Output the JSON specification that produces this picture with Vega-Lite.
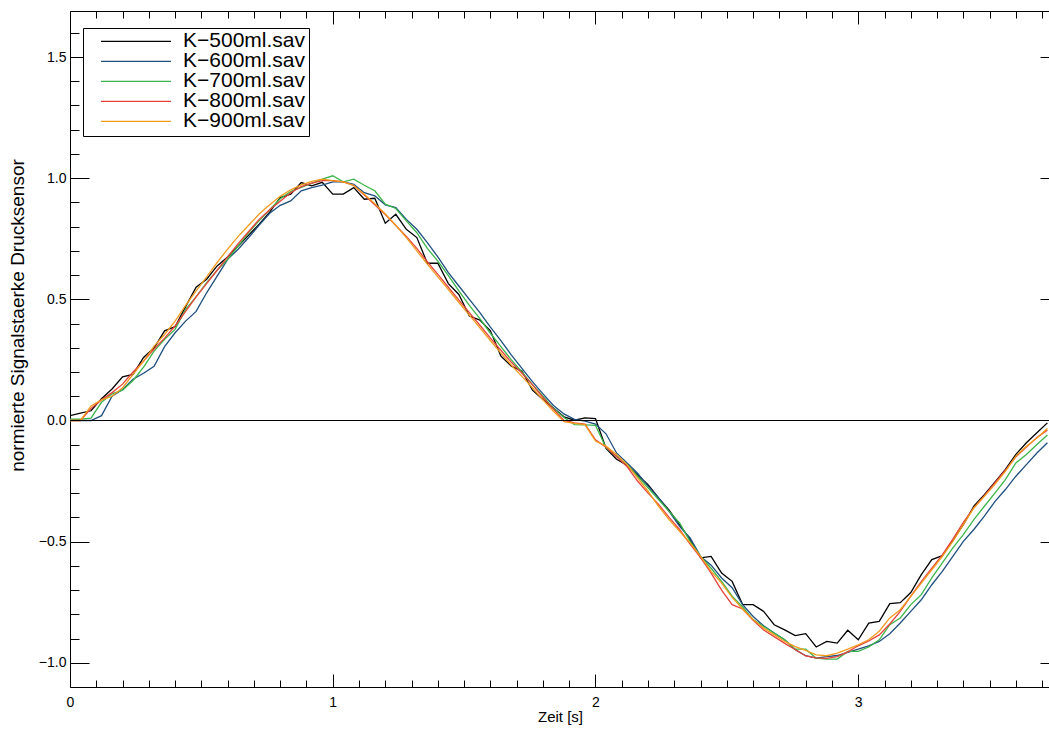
{
 "$schema": "https://vega.github.io/schema/vega-lite/v6.json",
 "width": 979, "height": 676,
 "autosize": {"type": "none"},
 "padding": {"left": 70, "top": 11, "right": 0, "bottom": 44},
 "background": "white",
 "config": {
  "view": {"stroke": null},
  "font": "Liberation Sans",
  "axis": {"grid": false, "domainColor": "black", "domainWidth": 1, "tickColor": "black", "tickWidth": 1, "labelColor": "black", "titleColor": "black", "labelFont": "Liberation Sans", "titleFont": "Liberation Sans", "titleFontWeight": "normal", "labelOverlap": false, "labelFlush": false, "labelBound": false},
  "legend": {"orient": "none", "legendX": 13, "legendY": 17, "title": null, "strokeColor": "black", "fillColor": "white", "padding": 4, "symbolType": "stroke", "symbolSize": 4900, "symbolStrokeWidth": 1.3, "symbolOffset": 13, "labelFontSize": 21, "labelFont": "Liberation Sans", "labelOffset": 11, "clipHeight": 18.75, "rowPadding": -5, "labelColor": "black", "labelLimit": 400}
 },
 "datasets": {"sig": [
  {"t":0.00,"K500":0.02,"K600":0.0,"K700":0.005,"K800":0.0,"K900":0.0},
  {"t":0.04,"K500":0.03,"K600":0.0,"K700":0.005,"K800":0.0,"K900":0.0},
  {"t":0.08,"K500":0.04,"K600":0.0,"K700":0.01,"K800":0.05,"K900":0.06},
  {"t":0.12,"K500":0.09,"K600":0.02,"K700":0.075,"K800":0.085,"K900":0.085},
  {"t":0.16,"K500":0.13,"K600":0.10,"K700":0.11,"K800":0.115,"K900":0.10},
  {"t":0.20,"K500":0.18,"K600":0.128,"K700":0.125,"K800":0.15,"K900":0.135},
  {"t":0.24,"K500":0.19,"K600":0.17,"K700":0.165,"K800":0.2,"K900":0.19},
  {"t":0.28,"K500":0.26,"K600":0.195,"K700":0.22,"K800":0.245,"K900":0.245},
  {"t":0.32,"K500":0.30,"K600":0.224,"K700":0.286,"K800":0.295,"K900":0.307},
  {"t":0.36,"K500":0.37,"K600":0.305,"K700":0.335,"K800":0.34,"K900":0.355},
  {"t":0.40,"K500":0.387,"K600":0.362,"K700":0.376,"K800":0.39,"K900":0.41},
  {"t":0.44,"K500":0.47,"K600":0.41,"K700":0.459,"K800":0.45,"K900":0.475},
  {"t":0.48,"K500":0.55,"K600":0.45,"K700":0.51,"K800":0.51,"K900":0.535},
  {"t":0.52,"K500":0.583,"K600":0.527,"K700":0.569,"K800":0.565,"K900":0.593},
  {"t":0.56,"K500":0.638,"K600":0.596,"K700":0.62,"K800":0.62,"K900":0.652},
  {"t":0.60,"K500":0.675,"K600":0.665,"K700":0.665,"K800":0.675,"K900":0.707},
  {"t":0.64,"K500":0.72,"K600":0.707,"K700":0.72,"K800":0.73,"K900":0.76},
  {"t":0.68,"K500":0.765,"K600":0.755,"K700":0.775,"K800":0.78,"K900":0.806},
  {"t":0.72,"K500":0.81,"K600":0.806,"K700":0.825,"K800":0.83,"K900":0.852},
  {"t":0.76,"K500":0.86,"K600":0.855,"K700":0.87,"K800":0.87,"K900":0.89},
  {"t":0.80,"K500":0.92,"K600":0.888,"K700":0.915,"K800":0.905,"K900":0.925},
  {"t":0.84,"K500":0.934,"K600":0.906,"K700":0.945,"K800":0.94,"K900":0.952},
  {"t":0.88,"K500":0.982,"K600":0.948,"K700":0.962,"K800":0.965,"K900":0.972},
  {"t":0.92,"K500":0.968,"K600":0.961,"K700":0.979,"K800":0.98,"K900":0.987},
  {"t":0.96,"K500":0.983,"K600":0.971,"K700":0.996,"K800":0.99,"K900":0.996},
  {"t":1.00,"K500":0.934,"K600":0.985,"K700":1.01,"K800":0.99,"K900":0.99},
  {"t":1.04,"K500":0.934,"K600":0.985,"K700":0.985,"K800":0.985,"K900":0.985},
  {"t":1.08,"K500":0.961,"K600":0.975,"K700":0.996,"K800":0.97,"K900":0.97},
  {"t":1.12,"K500":0.913,"K600":0.94,"K700":0.971,"K800":0.93,"K900":0.934},
  {"t":1.16,"K500":0.917,"K600":0.927,"K700":0.948,"K800":0.89,"K900":0.895},
  {"t":1.20,"K500":0.814,"K600":0.89,"K700":0.893,"K800":0.85,"K900":0.852},
  {"t":1.24,"K500":0.851,"K600":0.879,"K700":0.875,"K800":0.805,"K900":0.805},
  {"t":1.28,"K500":0.789,"K600":0.83,"K700":0.824,"K800":0.76,"K900":0.755},
  {"t":1.32,"K500":0.755,"K600":0.789,"K700":0.775,"K800":0.71,"K900":0.70},
  {"t":1.36,"K500":0.649,"K600":0.734,"K700":0.71,"K800":0.655,"K900":0.645},
  {"t":1.40,"K500":0.649,"K600":0.675,"K700":0.658,"K800":0.603,"K900":0.593},
  {"t":1.44,"K500":0.565,"K600":0.61,"K700":0.598,"K800":0.55,"K900":0.54},
  {"t":1.48,"K500":0.52,"K600":0.555,"K700":0.535,"K800":0.497,"K900":0.487},
  {"t":1.52,"K500":0.431,"K600":0.50,"K700":0.475,"K800":0.445,"K900":0.435},
  {"t":1.56,"K500":0.414,"K600":0.445,"K700":0.42,"K800":0.393,"K900":0.382},
  {"t":1.60,"K500":0.37,"K600":0.385,"K700":0.36,"K800":0.34,"K900":0.33},
  {"t":1.64,"K500":0.266,"K600":0.33,"K700":0.305,"K800":0.29,"K900":0.278},
  {"t":1.68,"K500":0.224,"K600":0.27,"K700":0.25,"K800":0.24,"K900":0.228},
  {"t":1.72,"K500":0.204,"K600":0.215,"K700":0.2,"K800":0.195,"K900":0.182},
  {"t":1.76,"K500":0.125,"K600":0.16,"K700":0.148,"K800":0.148,"K900":0.135},
  {"t":1.80,"K500":0.087,"K600":0.11,"K700":0.1,"K800":0.095,"K900":0.085},
  {"t":1.84,"K500":0.052,"K600":0.062,"K700":0.05,"K800":0.047,"K900":0.038},
  {"t":1.88,"K500":0.015,"K600":0.027,"K700":0.012,"K800":0.0,"K900":-0.005},
  {"t":1.92,"K500":0.001,"K600":0.005,"K700":-0.017,"K800":-0.01,"K900":-0.012},
  {"t":1.96,"K500":0.011,"K600":-0.003,"K700":-0.018,"K800":-0.015,"K900":-0.017},
  {"t":2.00,"K500":0.008,"K600":-0.015,"K700":-0.02,"K800":-0.08,"K900":-0.085},
  {"t":2.04,"K500":-0.115,"K600":-0.055,"K700":-0.113,"K800":-0.11,"K900":-0.106},
  {"t":2.08,"K500":-0.16,"K600":-0.134,"K700":-0.147,"K800":-0.15,"K900":-0.14},
  {"t":2.12,"K500":-0.185,"K600":-0.175,"K700":-0.182,"K800":-0.19,"K900":-0.182},
  {"t":2.16,"K500":-0.225,"K600":-0.218,"K700":-0.23,"K800":-0.25,"K900":-0.237},
  {"t":2.20,"K500":-0.265,"K600":-0.271,"K700":-0.278,"K800":-0.30,"K900":-0.292},
  {"t":2.24,"K500":-0.32,"K600":-0.32,"K700":-0.326,"K800":-0.346,"K900":-0.354},
  {"t":2.28,"K500":-0.37,"K600":-0.375,"K700":-0.375,"K800":-0.40,"K900":-0.409},
  {"t":2.32,"K500":-0.43,"K600":-0.437,"K700":-0.423,"K800":-0.45,"K900":-0.457},
  {"t":2.36,"K500":-0.492,"K600":-0.485,"K700":-0.499,"K800":-0.51,"K900":-0.505},
  {"t":2.40,"K500":-0.567,"K600":-0.561,"K700":-0.561,"K800":-0.566,"K900":-0.561},
  {"t":2.44,"K500":-0.561,"K600":-0.597,"K700":-0.61,"K800":-0.63,"K900":-0.623},
  {"t":2.48,"K500":-0.63,"K600":-0.65,"K700":-0.664,"K800":-0.70,"K900":-0.671},
  {"t":2.52,"K500":-0.664,"K600":-0.69,"K700":-0.725,"K800":-0.76,"K900":-0.73},
  {"t":2.56,"K500":-0.76,"K600":-0.76,"K700":-0.77,"K800":-0.778,"K900":-0.778},
  {"t":2.60,"K500":-0.76,"K600":-0.809,"K700":-0.822,"K800":-0.825,"K900":-0.822},
  {"t":2.64,"K500":-0.788,"K600":-0.847,"K700":-0.85,"K800":-0.865,"K900":-0.857},
  {"t":2.68,"K500":-0.843,"K600":-0.877,"K700":-0.877,"K800":-0.892,"K900":-0.884},
  {"t":2.72,"K500":-0.864,"K600":-0.905,"K700":-0.905,"K800":-0.92,"K900":-0.912},
  {"t":2.76,"K500":-0.888,"K600":-0.946,"K700":-0.944,"K800":-0.945,"K900":-0.933},
  {"t":2.80,"K500":-0.88,"K600":-0.971,"K700":-0.944,"K800":-0.972,"K900":-0.949},
  {"t":2.84,"K500":-0.935,"K600":-0.981,"K700":-0.981,"K800":-0.98,"K900":-0.967},
  {"t":2.88,"K500":-0.912,"K600":-0.975,"K700":-0.985,"K800":-0.982,"K900":-0.971},
  {"t":2.92,"K500":-0.919,"K600":-0.97,"K700":-0.985,"K800":-0.975,"K900":-0.96},
  {"t":2.96,"K500":-0.866,"K600":-0.957,"K700":-0.953,"K800":-0.955,"K900":-0.944},
  {"t":3.00,"K500":-0.905,"K600":-0.944,"K700":-0.953,"K800":-0.93,"K900":-0.926},
  {"t":3.04,"K500":-0.836,"K600":-0.93,"K700":-0.935,"K800":-0.91,"K900":-0.905},
  {"t":3.08,"K500":-0.829,"K600":-0.912,"K700":-0.905,"K800":-0.885,"K900":-0.87},
  {"t":3.12,"K500":-0.756,"K600":-0.88,"K700":-0.843,"K800":-0.84,"K900":-0.815},
  {"t":3.16,"K500":-0.752,"K600":-0.836,"K700":-0.815,"K800":-0.788,"K900":-0.781},
  {"t":3.20,"K500":-0.71,"K600":-0.788,"K700":-0.76,"K800":-0.725,"K900":-0.726},
  {"t":3.24,"K500":-0.636,"K600":-0.74,"K700":-0.719,"K800":-0.665,"K900":-0.671},
  {"t":3.28,"K500":-0.574,"K600":-0.678,"K700":-0.65,"K800":-0.61,"K900":-0.616},
  {"t":3.32,"K500":-0.558,"K600":-0.623,"K700":-0.588,"K800":-0.555,"K900":-0.561},
  {"t":3.36,"K500":-0.495,"K600":-0.561,"K700":-0.526,"K800":-0.49,"K900":-0.499},
  {"t":3.40,"K500":-0.43,"K600":-0.499,"K700":-0.471,"K800":-0.42,"K900":-0.43},
  {"t":3.44,"K500":-0.354,"K600":-0.45,"K700":-0.409,"K800":-0.36,"K900":-0.361},
  {"t":3.48,"K500":-0.306,"K600":-0.395,"K700":-0.354,"K800":-0.31,"K900":-0.313},
  {"t":3.52,"K500":-0.255,"K600":-0.335,"K700":-0.3,"K800":-0.258,"K900":-0.264},
  {"t":3.56,"K500":-0.202,"K600":-0.285,"K700":-0.244,"K800":-0.205,"K900":-0.21},
  {"t":3.60,"K500":-0.14,"K600":-0.23,"K700":-0.175,"K800":-0.15,"K900":-0.147},
  {"t":3.64,"K500":-0.092,"K600":-0.182,"K700":-0.14,"K800":-0.11,"K900":-0.106},
  {"t":3.68,"K500":-0.051,"K600":-0.134,"K700":-0.099,"K800":-0.07,"K900":-0.072},
  {"t":3.72,"K500":-0.01,"K600":-0.092,"K700":-0.06,"K800":-0.04,"K900":-0.033}
 ]},
 "layer": [
  {
   "data": {"name": "sig"},
   "transform": [{"fold": ["K500","K600","K700","K800","K900"], "as": ["series","v"]}],
   "mark": {"type": "line", "clip": true, "strokeWidth": 1.3},
   "encoding": {
    "x": {"field": "t", "type": "quantitative",
     "scale": {"domain": [0, 3.726], "nice": false, "zero": false},
     "axis": {"orient": "bottom", "title": "Zeit [s]", "titleFontSize": 15, "titleX": 490, "titleY": 34, "titleBaseline": "alphabetic", "titleAlign": "center",
      "values": [0,0.1,0.2,0.3,0.4,0.5,0.6,0.7,0.8,0.9,1,1.1,1.2,1.3,1.4,1.5,1.6,1.7,1.8,1.9,2,2.1,2.2,2.3,2.4,2.5,2.6,2.7,2.8,2.9,3,3.1,3.2,3.3,3.4,3.5,3.6,3.7],
      "format": ".0f",
      "labelExpr": "abs(datum.value - round(datum.value)) < 0.001 ? datum.label : ''",
      "tickSize": {"condition": {"test": "abs(datum.value - round(datum.value)) < 0.001", "value": -13}, "value": -7},
      "labelPadding": 21, "labelFontSize": 14}},
    "y": {"field": "v", "type": "quantitative",
     "scale": {"domain": [-1.1, 1.69], "nice": false, "zero": false},
     "axis": {"orient": "left", "title": "normierte Signalstaerke Drucksensor", "titleFontSize": 19, "titleX": -53, "titleY": 304, "titleBaseline": "middle", "titleAlign": "center", "titleAngle": -90,
      "values": [-1,-0.9,-0.8,-0.7,-0.6,-0.5,-0.4,-0.3,-0.2,-0.1,0,0.1,0.2,0.3,0.4,0.5,0.6,0.7,0.8,0.9,1,1.1,1.2,1.3,1.4,1.5,1.6],
      "format": ".1f",
      "labelExpr": "abs(datum.value*2 - round(datum.value*2)) < 0.001 ? datum.label : ''",
      "tickSize": {"condition": {"test": "abs(datum.value*2 - round(datum.value*2)) < 0.001", "value": -19}, "value": -9},
      "labelPadding": 23, "labelFontSize": 14}},
    "color": {"field": "series", "type": "nominal",
     "scale": {"domain": ["K500","K600","K700","K800","K900"], "range": ["#000000","#1f4f7f","#3bb54a","#e8433b","#f29b1d"]},
     "legend": {"labelExpr": "'K\u2212' + slice(datum.label, 1) + 'ml.sav'"}}
   }
  },
  {
   "data": {"values": [{}]},
   "mark": {"type": "rule", "color": "black", "strokeWidth": 1.2},
   "encoding": {
    "x": {"datum": 0, "type": "quantitative",
     "axis": {"orient": "top", "title": null, "labels": false,
      "values": [0,0.1,0.2,0.3,0.4,0.5,0.6,0.7,0.8,0.9,1,1.1,1.2,1.3,1.4,1.5,1.6,1.7,1.8,1.9,2,2.1,2.2,2.3,2.4,2.5,2.6,2.7,2.8,2.9,3,3.1,3.2,3.3,3.4,3.5,3.6,3.7],
      "tickSize": {"condition": {"test": "abs(datum.value - round(datum.value)) < 0.001", "value": -13}, "value": -7}}},
    "x2": {"datum": 3.726},
    "y": {"datum": 0, "type": "quantitative",
     "axis": {"orient": "right", "title": null, "labels": false, "offset": 10, "domain": false,
      "values": [-1,-0.9,-0.8,-0.7,-0.6,-0.5,-0.4,-0.3,-0.2,-0.1,0,0.1,0.2,0.3,0.4,0.5,0.6,0.7,0.8,0.9,1,1.1,1.2,1.3,1.4,1.5,1.6],
      "tickSize": {"condition": {"test": "abs(datum.value*2 - round(datum.value*2)) < 0.001", "value": -19}, "value": -9}}}
   }
  }
 ],
 "resolve": {"axis": {"x": "independent", "y": "independent"}}
}
